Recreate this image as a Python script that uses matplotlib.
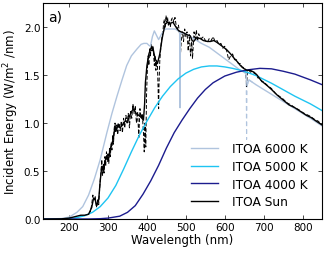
import matplotlib
matplotlib.use("Agg")
import matplotlib.pyplot as plt

# ---------------- data ----------------
wl_6000 = [133, 180, 200, 220, 235, 250, 265, 280, 297, 310, 323, 336, 348, 360, 374, 385, 392, 400, 405,
           409, 414, 419, 425, 430, 438, 447, 460, 473, 480, 484, 485, 486, 500, 520, 540, 560, 580, 600,
           620, 640, 650, 655, 657, 662, 680, 700, 720, 740, 760, 780, 800, 820, 850]
e_6000 = [0.0, 0.005, 0.02, 0.07, 0.13, 0.25, 0.42, 0.62, 0.9, 1.1, 1.28, 1.45, 1.6, 1.7, 1.77, 1.82, 1.83,
          1.83, 1.81, 1.80, 1.9, 1.96, 1.91, 1.87, 1.93, 1.98, 1.98, 1.98, 1.96, 1.95, 1.16, 1.94, 1.93,
          1.88, 1.83, 1.79, 1.73, 1.67, 1.61, 1.55, 1.53, 1.51, 1.39, 1.45, 1.40, 1.35, 1.30, 1.25, 1.20,
          1.15, 1.10, 1.05, 0.97]

wl_6000_hr = [640, 650, 655, 656, 657, 662, 680]
e_6000_hr = [1.55, 1.53, 1.51, 0.83, 1.39, 1.45, 1.40]

wl_5000 = [133, 180, 200, 220, 240, 260, 280, 300, 320, 340, 360, 380, 400, 420, 440, 460, 480, 500, 520,
           540, 560, 580, 600, 620, 640, 660, 680, 700, 720, 740, 760, 780, 800, 820, 850]
e_5000 = [0.0, 0.002, 0.006, 0.015, 0.035, 0.07, 0.13, 0.22, 0.35, 0.52, 0.7, 0.87, 1.02, 1.16, 1.28, 1.38,
          1.46, 1.52, 1.56, 1.585, 1.595, 1.595, 1.585, 1.57, 1.55, 1.525, 1.495, 1.455, 1.415, 1.37, 1.325,
          1.28, 1.24, 1.2, 1.13]

wl_4000 = [133, 250, 280, 300, 330, 350, 370, 390, 410, 430, 450, 470, 490, 510, 530, 550, 570, 600, 630,
           660, 690, 720, 750, 780, 800, 820, 850]
e_4000 = [0.0, 0.001, 0.004, 0.01, 0.03, 0.07, 0.14, 0.26, 0.4, 0.56, 0.74, 0.9, 1.03, 1.15, 1.26, 1.35,
          1.42, 1.49, 1.53, 1.555, 1.57, 1.565, 1.54, 1.51, 1.48, 1.45, 1.40]

wl_sun = [133, 180, 200, 210, 220, 230, 240, 250, 258, 263, 267, 271, 276, 280, 284, 288, 292, 297, 301,
          305, 310, 314, 318, 322, 326, 331, 337, 344, 350, 357, 362, 366, 372, 379, 385, 391, 394, 396,
          400, 405, 409, 415, 421, 427, 433, 439, 444, 447, 453, 460, 467, 473, 478, 482, 488, 494, 503,
          511, 516, 520, 528, 537, 545, 555, 563, 572, 580, 590, 600, 606, 615, 623, 632, 640, 648, 657,
          665, 675, 683, 692, 700, 709, 720, 735, 750, 765, 780, 795, 810, 821, 835, 850]
e_sun = [0.0, 0.002, 0.01, 0.02, 0.03, 0.04, 0.04, 0.05, 0.12, 0.22, 0.2, 0.14, 0.2, 0.4, 0.55, 0.5, 0.6,
         0.66, 0.62, 0.72, 0.78, 0.85, 0.97, 0.93, 0.99, 0.95, 0.98, 1.02, 1.02, 1.09, 1.13, 1.15, 1.1,
         1.08, 1.06, 1.03, 1.2, 1.42, 1.6, 1.72, 1.77, 1.79, 1.67, 1.62, 1.72, 1.88, 1.98, 2.03, 2.05,
         2.04, 2.05, 2.01, 1.98, 1.96, 1.95, 1.94, 1.92, 1.91, 1.86, 1.85, 1.89, 1.88, 1.86, 1.85, 1.85,
         1.86, 1.84, 1.81, 1.78, 1.76, 1.72, 1.68, 1.64, 1.6, 1.57, 1.55, 1.55, 1.53, 1.5, 1.45, 1.42,
         1.39, 1.35, 1.29, 1.24, 1.19, 1.16, 1.12, 1.08, 1.06, 1.02, 0.98]

wl_sun_hr = [250, 255, 258, 261, 264, 267, 270, 273, 276, 279, 282, 284, 286, 288, 290, 292, 294, 296, 298,
             300, 302, 304, 306, 308, 310, 312, 314, 316, 318, 320, 322, 325, 328, 331, 334, 337, 340, 343,
             346, 349, 352, 355, 358, 361, 364, 367, 370, 373, 376, 379, 382, 385, 388, 391, 393, 395, 397,
             399, 401, 403, 405, 407, 409, 411, 413, 415, 417, 419, 421, 423, 425, 427, 429, 430, 431, 433,
             435, 437, 439, 441, 443, 445, 447, 449, 451, 453, 455, 457, 460, 463, 466, 469, 472, 475, 478,
             481, 484, 486, 488, 491, 494, 497, 500, 503, 506, 509, 512, 515, 517, 521, 524, 527, 530, 533,
             536, 540, 545, 550, 555, 560, 565, 570, 575, 580, 585, 590, 595, 600, 605, 610, 615, 620, 625,
             630, 635, 640, 645, 650, 654, 656, 658, 662, 666, 670, 675, 680, 685, 690, 695, 700, 710, 720,
             730, 740, 750, 760, 770, 780, 790, 800, 810, 820, 830, 840, 850]
e_sun_hr = [0.05, 0.08, 0.15, 0.25, 0.2, 0.24, 0.12, 0.2, 0.15, 0.35, 0.5, 0.62, 0.45, 0.58, 0.48, 0.65,
            0.55, 0.7, 0.6, 0.68, 0.58, 0.75, 0.65, 0.8, 0.72, 0.88, 0.78, 0.95, 1.0, 0.9, 0.98, 0.88, 1.0,
            0.92, 1.02, 0.9, 1.05, 0.95, 1.08, 1.0, 1.1, 0.95, 1.12, 1.05, 1.2, 1.1, 1.18, 1.0, 1.12, 0.85,
            1.15, 1.05, 1.1, 0.9, 0.7, 1.0, 0.75, 1.3, 1.55, 1.7, 1.6, 1.78, 1.7, 1.82, 1.75, 1.8, 1.72, 1.6,
            1.7, 1.55, 1.65, 1.6, 1.3, 1.15, 1.4, 1.65, 1.75, 1.85, 1.9, 1.95, 2.05, 2.08, 2.0, 2.12, 2.05,
            2.1, 2.02, 2.06, 2.0, 2.08, 2.1, 2.05, 2.1, 2.02, 1.98, 2.02, 1.92, 1.7, 1.85, 1.95, 1.85, 1.98,
            1.9, 1.95, 1.75, 1.92, 1.7, 1.85, 1.67, 1.95, 1.88, 1.97, 1.85, 1.93, 1.9, 1.88, 1.9, 1.86, 1.84,
            1.88, 1.86, 1.9, 1.85, 1.86, 1.82, 1.83, 1.78, 1.8, 1.75, 1.66, 1.7, 1.72, 1.66, 1.66, 1.62,
            1.62, 1.58, 1.58, 1.55, 1.38, 1.53, 1.55, 1.53, 1.54, 1.52, 1.51, 1.47, 1.47, 1.43, 1.43, 1.39,
            1.36, 1.31, 1.28, 1.25, 1.21, 1.19, 1.16, 1.14, 1.11, 1.09, 1.07, 1.04, 1.02, 0.98]

x_ticks = [200, 300, 400, 500, 600, 700, 800]
y_ticks = [0.0, 0.5, 1.0, 1.5, 2.0]
labels = ["ITOA 6000 K", "ITOA 5000 K", "ITOA 4000 K", "ITOA Sun"]

# ---------------- figure ----------------
plt.rcParams['font.family'] = ['DejaVu Sans']
fig = plt.figure(figsize=(3.26, 2.55), dpi=100)
ax = fig.add_axes([0.132, 0.137, 0.856, 0.847])

c6, c5, c4 = '#b0c4de', '#1ec4f2', '#1c1c8e'

ax.plot(wl_6000_hr, e_6000_hr, color=c6, lw=0.8, ls=(0, (4, 3)))
ax.plot(wl_sun_hr, e_sun_hr, color='black', lw=0.7, ls=(0, (4, 2)))
l6, = ax.plot(wl_6000, e_6000, color=c6, lw=1.0)
l5, = ax.plot(wl_5000, e_5000, color=c5, lw=1.0)
l4, = ax.plot(wl_4000, e_4000, color=c4, lw=1.0)
ls, = ax.plot(wl_sun, e_sun, color='black', lw=1.0)

ax.set_xlim(133, 850)
ax.set_ylim(0, 2.25)
ax.set_xticks(x_ticks)
ax.set_yticks(y_ticks)
ax.set_yticklabels([f"{v:.1f}" for v in y_ticks])
ax.tick_params(direction='in', top=True, right=True, labelsize=7.5, length=3, width=0.5, pad=2)
for s in ax.spines.values():
    s.set_linewidth(0.8)

ax.set_xlabel("Wavelength (nm)", fontsize=8.5, labelpad=1)
ax.set_ylabel("Incident Energy (W/m$^2$ /nm)", fontsize=8.5, labelpad=2)
ax.text(0.02, 0.97, "a)", transform=ax.transAxes, fontsize=10, va='top', ha='left')

ax.legend([l6, l5, l4, ls], labels, loc='lower right', frameon=False, fontsize=8.8,
          handlelength=2.2, handletextpad=1.2, labelspacing=0.38, borderaxespad=0.3,
          bbox_to_anchor=(0.98, 0.01))

fig.savefig("out.png", dpi=100)
